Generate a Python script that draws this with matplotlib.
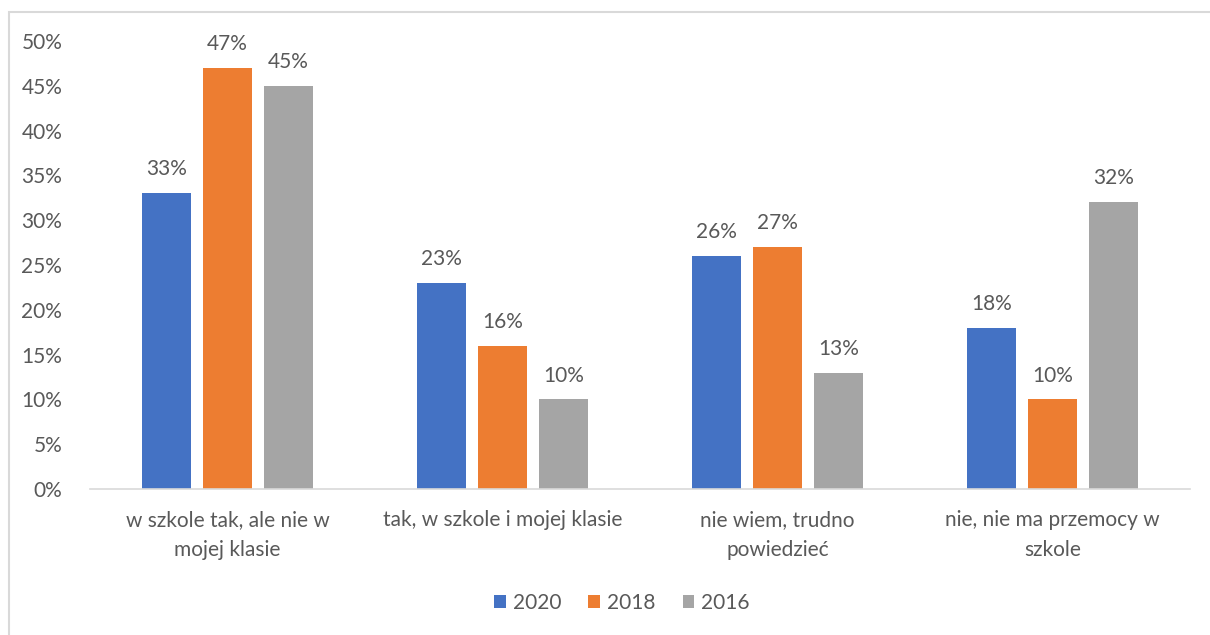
import matplotlib
matplotlib.use("Agg")
import matplotlib.pyplot as plt
import numpy as np
from matplotlib.patches import Rectangle

categories = ["w szkole tak, ale nie w\nmojej klasie",
              "tak, w szkole i mojej klasie",
              "nie wiem, trudno\npowiedzieć",
              "nie, nie ma przemocy w\nszkole"]
series_names = ["2020", "2018", "2016"]
v2020 = [33, 23, 26, 18]
v2018 = [47, 16, 27, 10]
v2016 = [45, 10, 13, 32]
colors = ["#4472C4", "#ED7D31", "#A5A5A5"]
yticks = [0, 5, 10, 15, 20, 25, 30, 35, 40, 45, 50]

plt.rcParams['font.family'] = ['Lato', 'DejaVu Sans']
text_color = "#595959"
fs = 15

fig = plt.figure(figsize=(12.1, 6.35), dpi=100)
fig.patches.append(Rectangle((9/1210, -0.1), 1.2, (1 - 12/635) + 0.1,
                             transform=fig.transFigure, fill=False,
                             edgecolor="#D9D9D9", linewidth=1.5))
ax = fig.add_axes([90/1210, 1 - 489/635, 1100/1210, 448/635])

x = np.arange(len(categories))
width = 0.175
step = 0.222
for i, (vals, name, c) in enumerate(zip([v2020, v2018, v2016], series_names, colors)):
    pos = x + (i - 1) * step
    ax.bar(pos, vals, width, color=c, label=name)
    for p, v in zip(pos, vals):
        ax.annotate(f"{v}%", (p, v), xytext=(0, 10), textcoords="offset points",
                    ha="center", va="bottom", fontsize=fs, color=text_color)

ax.set_xlim(-0.5, 3.5)
ax.set_ylim(0, 50)
ax.set_yticks(yticks)
ax.set_yticklabels([f"{t}%" for t in yticks])
ax.set_xticks(x)
ax.set_xticklabels(categories, linespacing=1.65)
ax.tick_params(axis="both", length=0, labelsize=fs, colors=text_color)
ax.tick_params(axis="y", pad=20)
ax.tick_params(axis="x", pad=15)
for s in ["top", "right", "left"]:
    ax.spines[s].set_visible(False)
ax.spines["bottom"].set_color("#D9D9D9")
ax.spines["bottom"].set_linewidth(1.2)

fig.legend(loc="center", bbox_to_anchor=(622/1210, 1 - 603/635), ncol=3,
           frameon=False, fontsize=fs, handlelength=0.55, handleheight=0.55,
           handletextpad=0.35, columnspacing=1.3, labelcolor=text_color)

fig.savefig("out.png", dpi=100)
